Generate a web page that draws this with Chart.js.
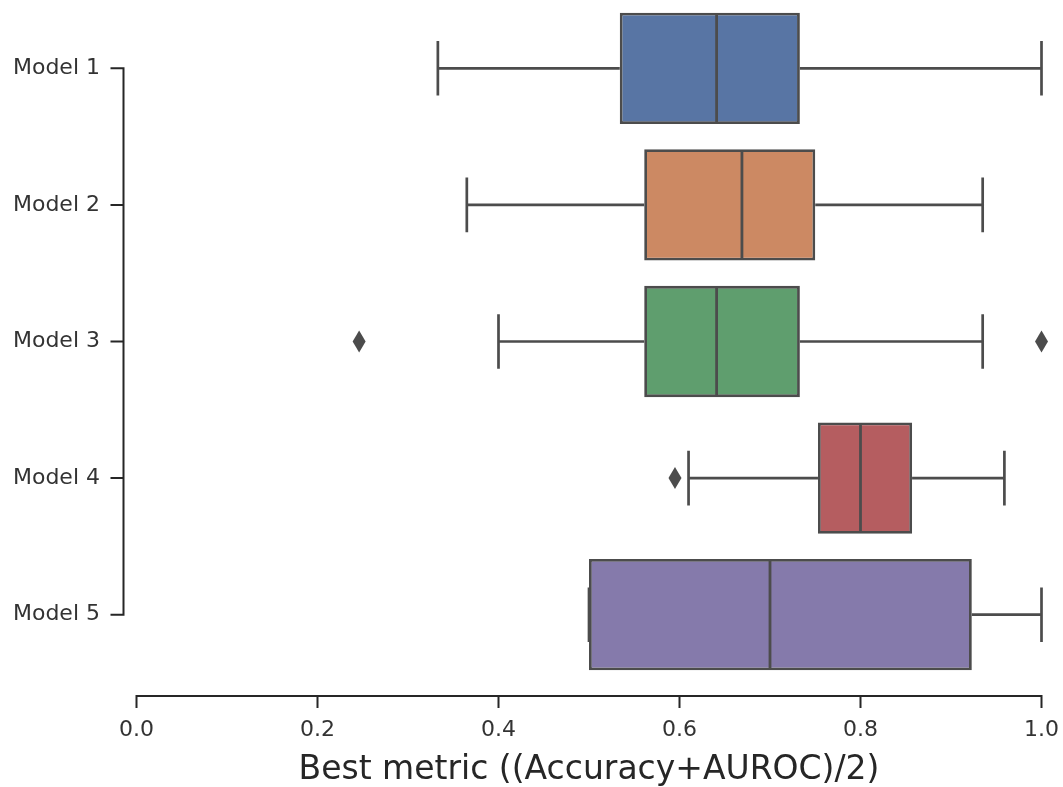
<!DOCTYPE html>
<html>
<head>
<meta charset="utf-8">
<script src="https://cdn.jsdelivr.net/npm/chart.js@4"></script>
<style>
  html, body { margin: 0; padding: 0; background: #ffffff; }
  #wrap { width: 1063px; height: 787px; }
</style>
</head>
<body>
<div id="wrap"><canvas id="chart" width="1063" height="787"></canvas></div>
<script>
// Box-plot summary per model (metric = (Accuracy + AUROC) / 2)
const models      = ['Model 1', 'Model 2', 'Model 3', 'Model 4', 'Model 5'];
const whiskerLow  = [0.333, 0.365, 0.400, 0.610, 0.500];
const q1          = [0.534, 0.561, 0.561, 0.753, 0.500];
const medians     = [0.641, 0.669, 0.641, 0.800, 0.700];
const q3          = [0.733, 0.750, 0.733, 0.857, 0.923];
const whiskerHigh = [1.000, 0.935, 0.935, 0.959, 1.000];
const outliers    = [[], [], [0.246, 1.000], [0.595], []];
const xTicks      = [0.0, 0.2, 0.4, 0.6, 0.8, 1.0];

const boxColors = ['#5875a4', '#cc8963', '#5f9e6e', '#b55d60', '#857aab'];
const lineColor = '#4c4c4c';
const axisColor = '#262626';
const AXIS_GAP = 13;   // detached (offset) axis spines

function spacing(yScale) {
  return Math.abs(yScale.getPixelForValue(1) - yScale.getPixelForValue(0));
}

const boxDecor = {
  id: 'boxDecor',
  beforeDatasetsDraw(chart) {
    const { ctx, scales: { x, y } } = chart;
    const capH = 0.4 * spacing(y);
    ctx.save();
    ctx.strokeStyle = lineColor;
    ctx.lineWidth = 2.7;
    ctx.lineCap = 'butt';
    models.forEach((m, i) => {
      const cy = y.getPixelForValue(i);
      const lo = x.getPixelForValue(whiskerLow[i]);
      const hi = x.getPixelForValue(whiskerHigh[i]);
      const a = x.getPixelForValue(q1[i]);
      const b = x.getPixelForValue(q3[i]);
      ctx.beginPath();
      ctx.moveTo(lo, cy); ctx.lineTo(a, cy);
      ctx.moveTo(b, cy); ctx.lineTo(hi, cy);
      ctx.moveTo(lo, cy - capH / 2); ctx.lineTo(lo, cy + capH / 2);
      ctx.moveTo(hi, cy - capH / 2); ctx.lineTo(hi, cy + capH / 2);
      ctx.stroke();
    });
    ctx.restore();
  },
  afterDatasetsDraw(chart) {
    const { ctx, scales: { x, y } } = chart;
    const sp = spacing(y);
    const boxH = 0.815 * sp;
    ctx.save();
    // medians
    ctx.strokeStyle = lineColor;
    ctx.lineWidth = 2.8;
    models.forEach((m, i) => {
      const cy = y.getPixelForValue(i);
      const mx = x.getPixelForValue(medians[i]);
      ctx.beginPath();
      ctx.moveTo(mx, cy - boxH / 2 + 1);
      ctx.lineTo(mx, cy + boxH / 2 - 1);
      ctx.stroke();
    });
    // outliers as thin diamonds
    ctx.fillStyle = lineColor;
    outliers.forEach((list, i) => {
      const cy = y.getPixelForValue(i);
      list.forEach(v => {
        const px = x.getPixelForValue(v);
        ctx.beginPath();
        ctx.moveTo(px, cy - 11);
        ctx.lineTo(px + 6.5, cy);
        ctx.lineTo(px, cy + 11);
        ctx.lineTo(px - 6.5, cy);
        ctx.closePath();
        ctx.fill();
      });
    });
    // offset spines with tick marks
    ctx.strokeStyle = axisColor;
    ctx.lineWidth = 2;
    const ax = x.left - AXIS_GAP;
    const y0 = y.getPixelForValue(0);
    const y4 = y.getPixelForValue(models.length - 1);
    ctx.beginPath();
    ctx.moveTo(ax, y0); ctx.lineTo(ax, y4);
    models.forEach((m, i) => {
      const ty = y.getPixelForValue(i);
      ctx.moveTo(ax + 1, ty); ctx.lineTo(ax - 13, ty);
    });
    const ay = y.bottom + AXIS_GAP;
    const x0 = x.getPixelForValue(xTicks[0]);
    const x1 = x.getPixelForValue(xTicks[xTicks.length - 1]);
    ctx.moveTo(x0, ay); ctx.lineTo(x1, ay);
    xTicks.forEach(t => {
      const tx = x.getPixelForValue(t);
      ctx.moveTo(tx, ay - 1); ctx.lineTo(tx, ay + 12);
    });
    ctx.stroke();
    ctx.restore();
  }
};

new Chart(document.getElementById('chart'), {
  type: 'bar',
  data: {
    labels: models,
    datasets: [{
      data: models.map((m, i) => [q1[i], q3[i]]),
      backgroundColor: boxColors,
      borderColor: lineColor,
      borderWidth: 2.8,
      borderSkipped: false,
      barPercentage: 0.815,
      categoryPercentage: 1.0
    }]
  },
  options: {
    indexAxis: 'y',
    responsive: false,
    animation: false,
    devicePixelRatio: 1,
    layout: { padding: { top: 0, right: 21.5, bottom: 0, left: 0 } },
    plugins: { legend: { display: false }, tooltip: { enabled: false } },
    scales: {
      x: {
        type: 'linear',
        min: 0,
        max: 1,
        afterBuildTicks(scale) { scale.ticks = xTicks.map(v => ({ value: v })); },
        ticks: {
          callback: v => Number(v).toFixed(1),
          font: { family: 'DejaVu Sans', size: 22 },
          color: '#333333',
          padding: 34,
          maxRotation: 0
        },
        grid: { display: false, drawTicks: false },
        border: { display: false },
        title: {
          display: true,
          text: 'Best metric ((Accuracy+AUROC)/2)',
          font: { family: 'DejaVu Sans', size: 33, lineHeight: 1.0 },
          color: axisColor,
          padding: { top: 0, bottom: 0 }
        },
        afterFit(scale) {
          scale.height = 104;
          scale.paddingLeft = 0;
          scale.paddingRight = 0;
        }
      },
      y: {
        type: 'category',
        ticks: {
          font: { family: 'DejaVu Sans', size: 22 },
          color: '#333333',
          padding: 36.5
        },
        grid: { display: false, drawTicks: false },
        border: { display: false },
        afterFit(scale) {
          scale.width = 136.5;
          scale.paddingTop = 0;
          scale.paddingBottom = 0;
        }
      }
    }
  },
  plugins: [boxDecor]
});
</script>
</body>
</html>
